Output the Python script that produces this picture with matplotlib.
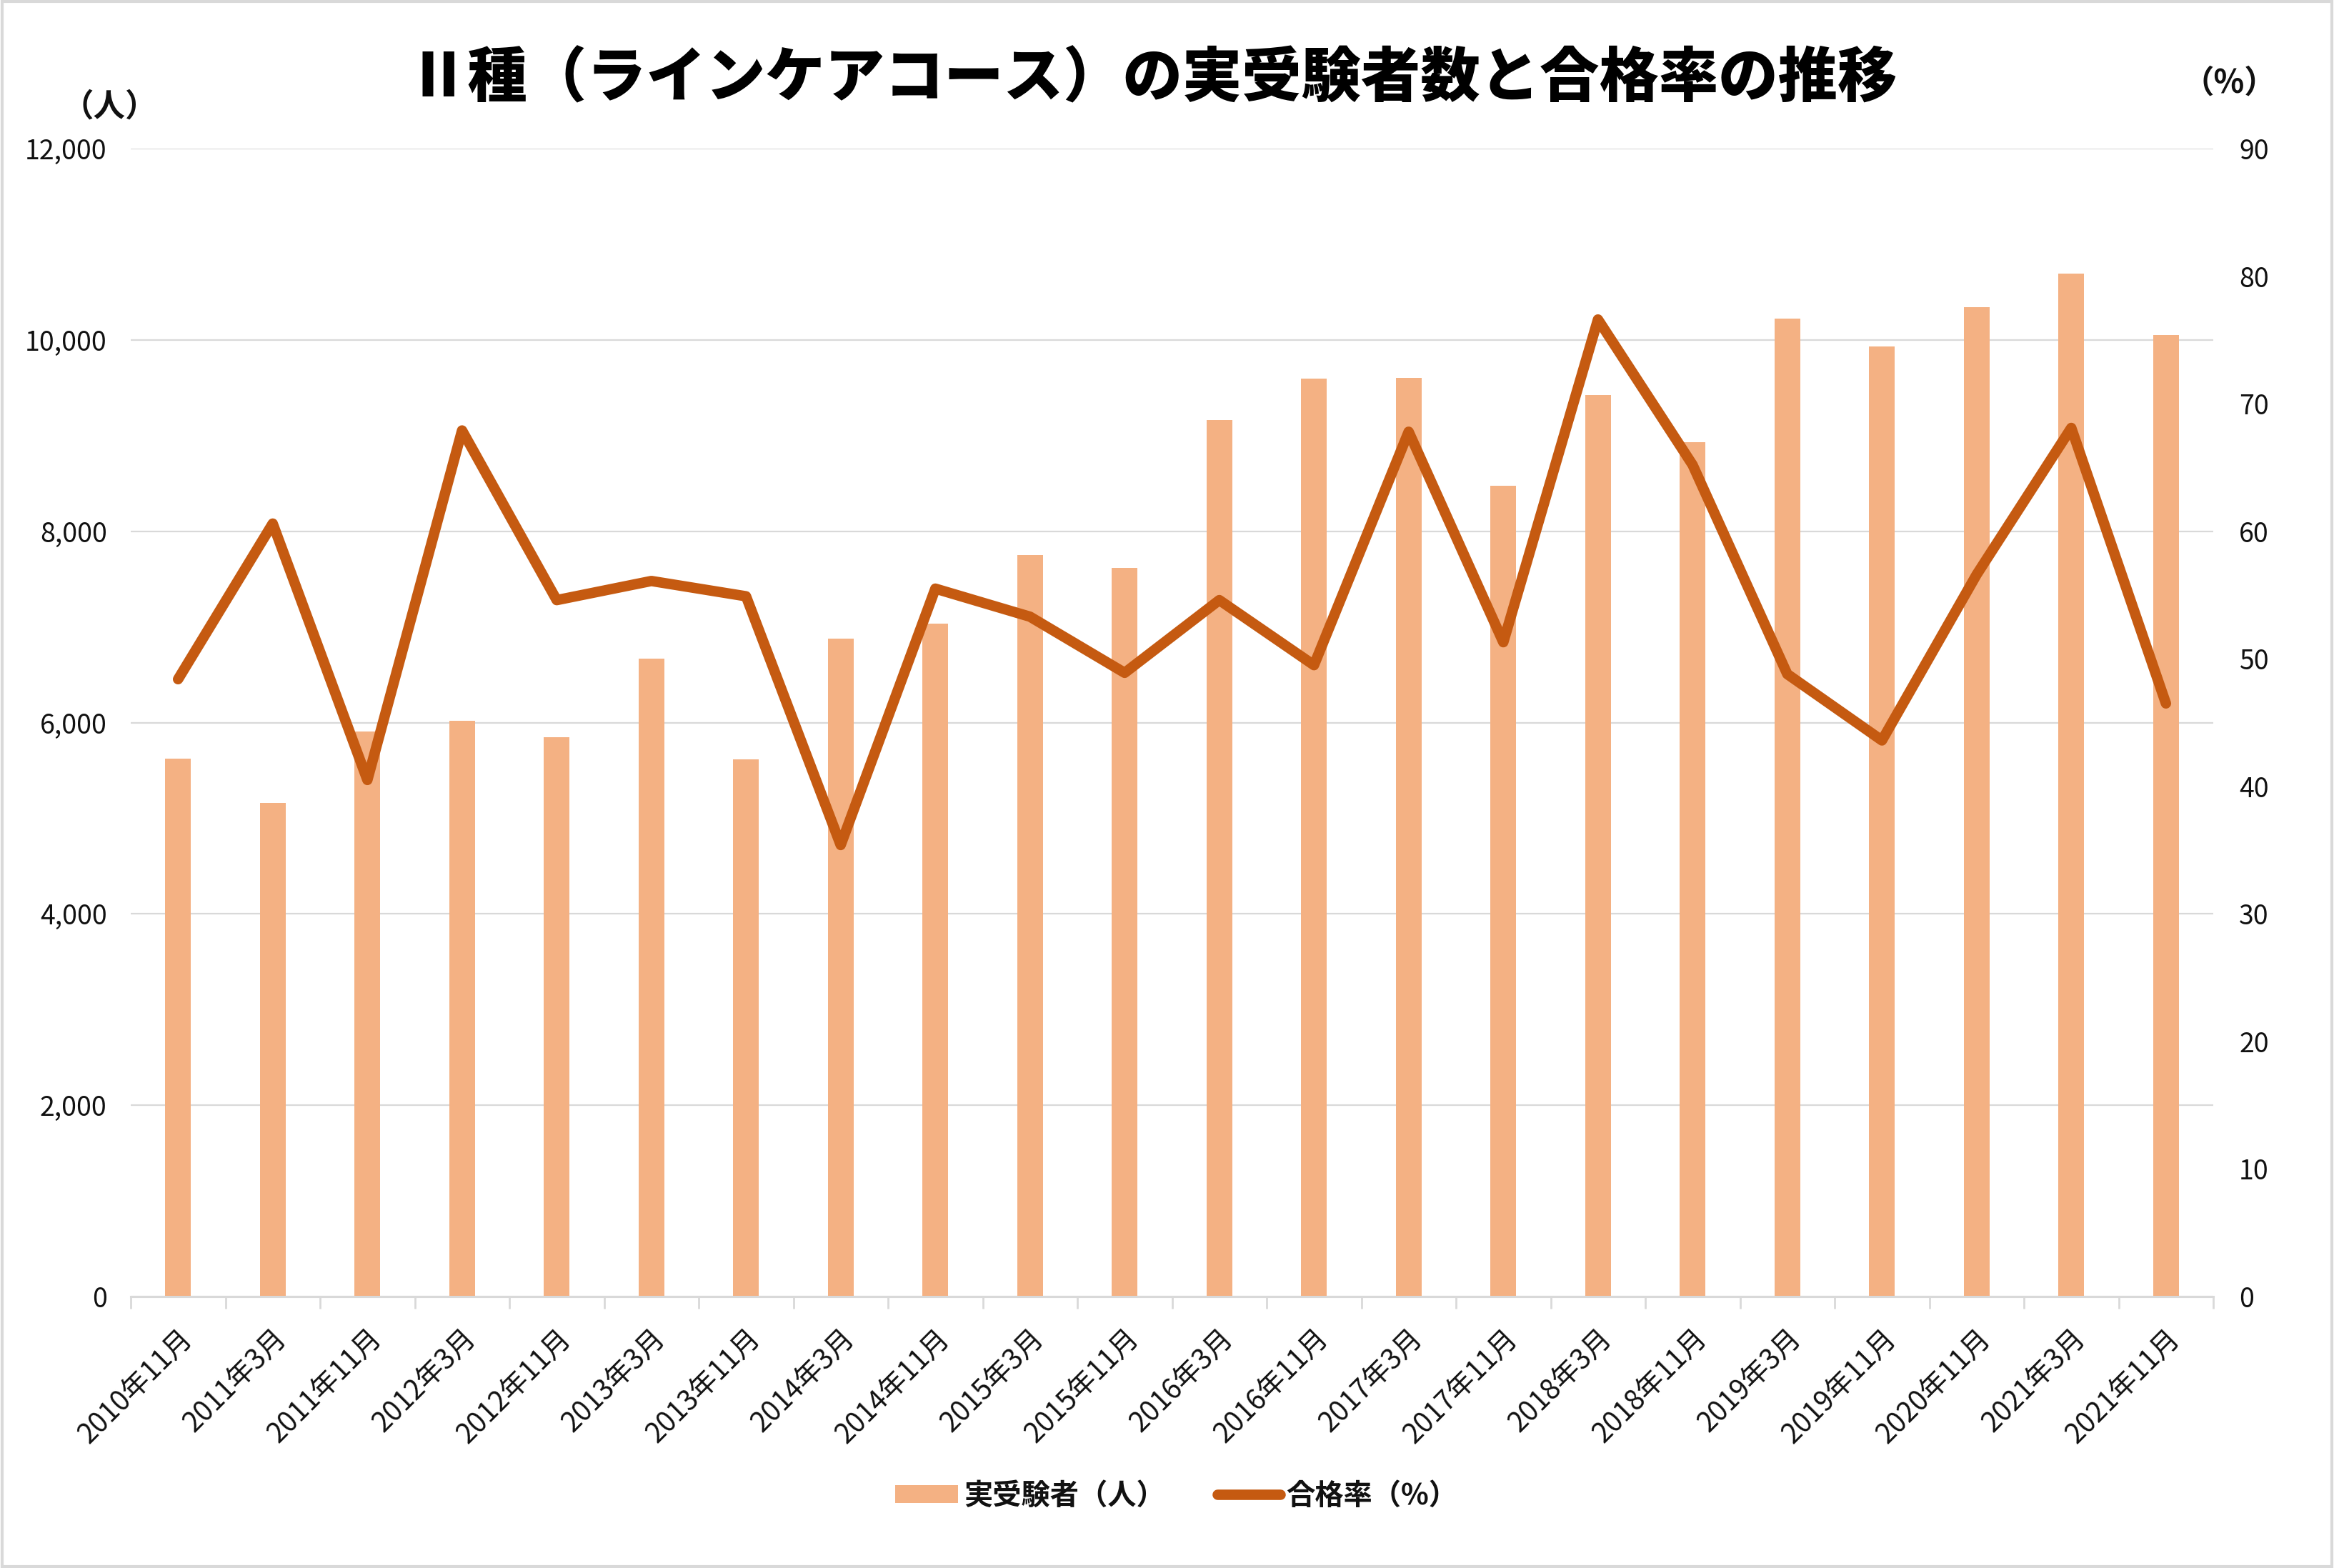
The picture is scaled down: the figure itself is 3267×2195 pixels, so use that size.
import matplotlib
matplotlib.use("Agg")
import matplotlib.pyplot as plt
from matplotlib.patches import Rectangle
from matplotlib.ticker import FuncFormatter, FixedLocator, MultipleLocator
import numpy as np

plt.rcParams['font.family'] = ['Noto Sans CJK JP', 'DejaVu Sans']

categories = ['2010年11月', '2011年3月', '2011年11月', '2012年3月', '2012年11月',
              '2013年3月', '2013年11月', '2014年3月', '2014年11月', '2015年3月',
              '2015年11月', '2016年3月', '2016年11月', '2017年3月', '2017年11月',
              '2018年3月', '2018年11月', '2019年3月', '2019年11月', '2020年11月',
              '2021年3月', '2021年11月']
examinees = [5623, 5162, 5906, 6021, 5848, 6665, 5618, 6880, 7037, 7754, 7613,
             9162, 9597, 9602, 8476, 9424, 8932, 10220, 9932, 10340, 10691, 10052]
pass_rate = [48.4, 60.6, 40.5, 67.9, 54.6, 56.1, 54.9, 35.4, 55.5, 53.3, 48.9,
             54.6, 49.5, 67.8, 51.3, 76.6, 65.2, 48.8, 43.6, 56.6, 68.1, 46.5]

title = 'Ⅱ種（ラインケアコース）の実受験者数と合格率の推移'
bar_label = '実受験者（人）'
line_label = '合格率（%）'

BAR_COLOR = '#F4B183'
LINE_COLOR = '#C55A11'
GRID_COLOR = '#D9D9D9'
TEXT_COLOR = '#111111'

W, H = 3267, 2195
dpi = 100
fig = plt.figure(figsize=(W / dpi, H / dpi), dpi=dpi)

left, right, top, bottom = 183, 3098, 208, 1815
ax = fig.add_axes([left / W, 1 - bottom / H, (right - left) / W, (bottom - top) / H])
ax2 = ax.twinx()

x = np.arange(len(categories))
bars = ax.bar(x, examinees, width=0.27, color=BAR_COLOR, zorder=2, label=bar_label)
line, = ax2.plot(x, pass_rate, color=LINE_COLOR, lw=10.5, solid_capstyle='round',
                 solid_joinstyle='round', zorder=3, label=line_label)

ax.set_xlim(-0.5, len(categories) - 0.5)
ax.set_ylim(0, 12000)
ax2.set_ylim(0, 90)
ax.yaxis.set_major_locator(MultipleLocator(2000))
ax2.yaxis.set_major_locator(MultipleLocator(10))
ax.yaxis.set_major_formatter(FuncFormatter(lambda v, p: f'{int(v):,}'))

ax.grid(axis='y', color=GRID_COLOR, lw=1.6, zorder=0)
ax.set_axisbelow(True)
ax2.set_zorder(ax.get_zorder() + 1)
ax2.patch.set_visible(False)

for a in (ax, ax2):
    for s in ('top', 'left', 'right', 'bottom'):
        a.spines[s].set_visible(False)
ax.spines['bottom'].set_visible(True)
ax.spines['bottom'].set_color(GRID_COLOR)
ax.spines['bottom'].set_linewidth(2.2)

ax.set_xticks(x)
ax.set_xticklabels(categories, rotation=45, ha='right', va='top', rotation_mode='anchor',
                   fontsize=28, color=TEXT_COLOR)
ax.tick_params(axis='x', which='major', length=0, pad=28)
ax.xaxis.set_minor_locator(FixedLocator(np.arange(-0.5, len(categories), 1.0)))
ax.tick_params(axis='x', which='minor', length=12, width=2, color=GRID_COLOR)

ax.tick_params(axis='y', length=0, pad=24, labelsize=27, labelcolor=TEXT_COLOR)
ax2.tick_params(axis='y', length=0, pad=26, labelsize=27, labelcolor=TEXT_COLOR)

fig.text(0.494, 0.950, title, ha='center', va='center', fontsize=60, fontweight='black',
         color='#000000')
fig.text(0.047, 0.932, '（人）', ha='center', va='center', fontsize=32, fontweight='bold',
         color=TEXT_COLOR)
fig.text(0.955, 0.947, '（%）', ha='center', va='center', fontsize=32, fontweight='bold',
         color=TEXT_COLOR)

leg = fig.legend(handles=[bars, line], labels=[bar_label, line_label], loc='center',
                 bbox_to_anchor=(0.504, 0.046), ncol=2, frameon=False,
                 prop={'size': 29, 'weight': 'bold'}, handlelength=2.2,
                 handleheight=0.6, handletextpad=0.2, columnspacing=1.8)
for t in leg.get_texts():
    t.set_color(TEXT_COLOR)

fig.patches.append(Rectangle((0.001, 0.001), 0.998, 0.998, transform=fig.transFigure,
                             fill=False, edgecolor=GRID_COLOR, lw=3))

fig.savefig('out.png', dpi=dpi, facecolor='white')
